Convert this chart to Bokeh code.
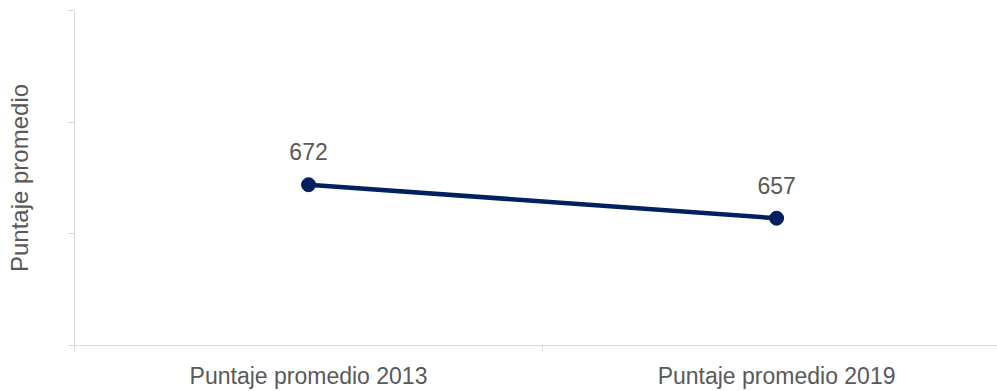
from bokeh.plotting import figure
from bokeh.models import Range1d, FixedTicker, ColumnDataSource
from bokeh.core.properties import value
from bokeh.embed import file_html
from bokeh.resources import INLINE

categories = ["Puntaje promedio 2013", "Puntaje promedio 2019"]
scores = [672, 657]
score_labels = [str(v) for v in scores]
y_ticks = [600, 650, 700, 750]

FONT = "Liberation Sans"
GRAY_TEXT = "#595959"
AXIS_GRAY = "#d9d9d9"
NAVY = "#002060"

xs = [i + 0.5 for i in range(len(categories))]
src = ColumnDataSource(dict(x=xs, y=scores, lbl=score_labels))

p = figure(width=997, height=391, output_backend="svg", toolbar_location=None,
           x_range=Range1d(0, 1.972), y_range=Range1d(600, 750),
           min_border_left=74, min_border_right=0, min_border_top=10, min_border_bottom=45)
p.outline_line_color = None
p.grid.visible = False
p.background_fill_color = "white"
p.border_fill_color = "white"

p.line("x", "y", source=src, line_color=NAVY, line_width=4.5)
p.scatter("x", "y", source=src, size=14, fill_color=NAVY, line_color=NAVY)
p.text("x", "y", text="lbl", source=src, y_offset=-33, text_align="center",
       text_baseline="alphabetic", text_font=value(FONT), text_font_size="23px",
       text_color=GRAY_TEXT)

# x axis
xa = p.xaxis[0]
xa.ticker = FixedTicker(ticks=xs, minor_ticks=[0, 1, 2])
xa.major_label_overrides = {x: c for x, c in zip(xs, categories)}
xa.major_tick_out = 0
xa.major_tick_in = 0
xa.minor_tick_out = 6
xa.minor_tick_in = 0
xa.minor_tick_line_color = AXIS_GRAY
xa.axis_line_color = AXIS_GRAY
xa.major_label_text_font = FONT
xa.major_label_text_font_size = "23px"
xa.major_label_text_color = GRAY_TEXT
xa.major_label_standoff = 11

# y axis
ya = p.yaxis[0]
ya.ticker = FixedTicker(ticks=y_ticks, minor_ticks=[])
ya.major_label_overrides = {t: "" for t in y_ticks}
ya.major_label_text_font_size = "0px"
ya.major_tick_out = 7
ya.major_tick_in = 0
ya.major_tick_line_color = AXIS_GRAY
ya.axis_line_color = AXIS_GRAY
ya.minor_tick_line_color = None
ya.axis_label = "Puntaje promedio"
ya.axis_label_text_font = FONT
ya.axis_label_text_font_size = "24px"
ya.axis_label_text_font_style = "normal"
ya.axis_label_text_color = GRAY_TEXT
ya.axis_label_standoff = 35

open("out.html", "w").write(file_html(p, INLINE))
